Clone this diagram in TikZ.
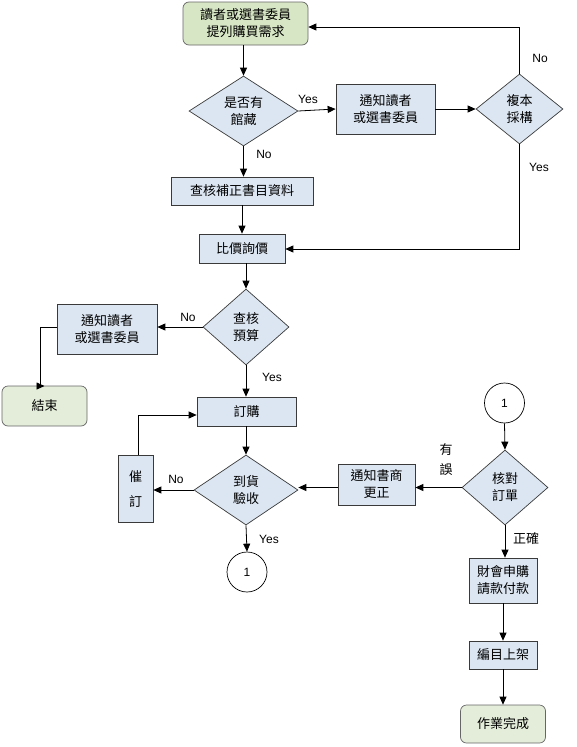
\documentclass[tikz,border=0pt]{standalone}
\usepackage{fontspec}
\setmainfont{Liberation Sans}
\newfontfamily\cjk{Noto Sans CJK TC}
\usetikzlibrary{shapes.geometric,arrows.meta,calc}
\definecolor{boxblue}{HTML}{DCE6F2}
\definecolor{boxgreen}{HTML}{D7E6C4}
\definecolor{endgreen}{HTML}{E3EDD9}
\definecolor{edgegray}{HTML}{3A3A3A}
\begin{document}
\begin{tikzpicture}[x=1pt,y=-1pt,
  txt/.style={font=\cjk\fontsize{13}{17}\selectfont,align=center,inner sep=0pt},
  procbox/.style={txt,draw=edgegray,fill=boxblue,line width=0.7pt,rectangle},
  termbox/.style={txt,draw=gray!80!black,fill=boxgreen,line width=0.7pt,rectangle,rounded corners=6pt},
  endbox/.style={termbox,fill=endgreen},
  decide/.style={txt,draw=edgegray,fill=boxblue,line width=0.7pt,diamond,aspect=1.4},
  conn/.style={draw=black,line width=0.7pt,circle,inner sep=0pt,font=\fontsize{12}{14}\selectfont},
  lbl/.style={font=\fontsize{12}{14}\selectfont,inner sep=0pt},
  arr/.style={draw=black,line width=0.8pt,-{Triangle[length=8pt,width=7pt]}},
  ln/.style={draw=black,line width=0.8pt}]
\useasboundingbox (0,0) rectangle (577,747);

% nodes
\node[termbox,minimum width=125pt,minimum height=43pt] (start) at (245.5,23.5) {讀者或選書委員\\提列購買需求};
\node[decide,minimum width=109pt,minimum height=70pt] (hold) at (243.5,111) {};
\node[txt] at (243.5,111) {是否有\\館藏};
\node[procbox,minimum width=99pt,minimum height=50pt] (notify1) at (385.5,109) {通知讀者\\或選書委員};
\node[decide,minimum width=87pt,minimum height=70pt] (copy) at (519.5,109) {};
\node[txt] at (519.5,109) {複本\\採構};
\node[procbox,minimum width=142pt,minimum height=28pt] (check) at (242,191) {查核補正書目資料};
\node[procbox,minimum width=86pt,minimum height=29pt] (price) at (242,248.5) {比價詢價};
\node[decide,minimum width=86pt,minimum height=76pt] (budget) at (246,327) {};
\node[txt] at (246,327) {查核\\預算};
\node[procbox,minimum width=100pt,minimum height=50pt] (notify2) at (107,329) {通知讀者\\或選書委員};
\node[endbox,minimum width=85pt,minimum height=40pt] (endA) at (44.5,406) {結束};
\node[procbox,minimum width=99pt,minimum height=29pt] (order) at (246.5,411.5) {訂購};
\node[decide,minimum width=104pt,minimum height=70pt] (arrive) at (246,490) {};
\node[txt] at (246,490) {到貨\\驗收};
\node[procbox,minimum width=35pt,minimum height=67pt,font=\cjk\fontsize{13}{25}\selectfont] (urge) at (135.5,488.5) {催\\訂};
\node[conn,minimum size=40pt] (c1a) at (247,572) {1};
\node[conn,minimum size=40pt] (c1b) at (504.5,403) {1};
\node[decide,minimum width=86pt,minimum height=75pt] (verify) at (505,487.5) {};
\node[txt] at (505,487.5) {核對\\訂單};
\node[procbox,minimum width=77pt,minimum height=41pt] (vendor) at (376.5,484.5) {通知書商\\更正};
\node[procbox,minimum width=68pt,minimum height=45pt] (pay) at (503,580.5) {財會申購\\請款付款};
\node[procbox,minimum width=68pt,minimum height=28pt] (catalog) at (503,655) {編目上架};
\node[endbox,minimum width=85pt,minimum height=38pt] (done) at (503,724) {作業完成};

% connectors
\draw[arr] (start.south -| hold.north) -- (hold.north);
\draw[arr] (hold.east) -- (notify1.west);
\draw[arr] (notify1.east) -- (copy.west);
\draw[arr] (copy.north) -- (copy.north |- 0,27) -- (start.east |- 0,27);
\draw[arr] (copy.south) -- (copy.south |- 0,249) -- (price.east |- 0,249);
\draw[arr] (hold.south) -- (hold.south |- check.north);
\draw[arr] (check.south) -- (price.north);
\draw[arr] (price.south -| budget.north) -- (budget.north);
\draw[arr] (budget.west) -- (notify2.east |- budget.west);
\draw[arr] (notify2.west |- 0,327) -- (40,327) -- (40,386) -- (40,386 -| endA.north);
\draw[arr] (budget.south) -- (budget.south |- order.north);
\draw[arr] (order.south -| arrive.north) -- (arrive.north);
\draw[arr] (arrive.west) -- (urge.east |- arrive.west);
\draw[arr] (urge.north -| 138,0) -- (138,415) -- (order.west |- 0,415);
\draw[arr] (arrive.south) -- (c1a.north);
\draw[arr] (c1b.south) -- (verify.north);
\draw[arr] (verify.west) -- (vendor.east |- verify.west);
\draw[arr] (vendor.west |- 0,487.5) -- (arrive.east |- 0,487.5);
\draw[arr] (verify.south) -- (verify.south |- pay.north);
\draw[arr] (pay.south) -- (catalog.north);
\draw[arr] (catalog.south) -- (done.north);

% labels
\node[lbl] at (308,99) {Yes};
\node[lbl] at (540,58) {No};
\node[lbl] at (539,167) {Yes};
\node[lbl] at (264,154) {No};
\node[lbl] at (188,317) {No};
\node[lbl] at (272,377) {Yes};
\node[lbl] at (176,479) {No};
\node[lbl] at (269,539) {Yes};
\node[txt,font=\cjk\fontsize{13}{20}\selectfont] at (446,460) {有\\誤};
\node[txt] at (526,539) {正確};
\end{tikzpicture}
\end{document}
